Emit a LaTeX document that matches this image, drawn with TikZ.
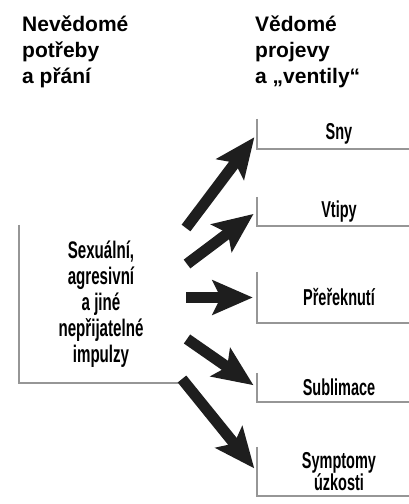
\documentclass[tikz,border=0pt]{standalone}
\usepackage{fontspec}
\setmainfont{Liberation Sans}
\newfontfamily\condfont[FakeStretch=0.63]{Liberation Sans}
\usetikzlibrary{positioning, arrows.meta}
\definecolor{framegray}{RGB}{150,150,150}
\definecolor{arrowblack}{RGB}{30,30,30}

\begin{document}
\begin{tikzpicture}[x=1pt, y=-1pt,
  head/.style={align=left, inner sep=0pt, anchor=base west, font=\bfseries\fontsize{21}{26}\selectfont},
  inbox/.style={inner sep=0pt, align=center, font=\condfont\bfseries\fontsize{24}{26}\selectfont},
  outbox/.style={inner sep=0pt, align=center, minimum width=164pt, font=\condfont\bfseries\fontsize{23}{21}\selectfont},
  frame/.style={draw=framegray, line width=1.6pt},
  arr/.style={-{Stealth[length=40pt, width=34pt, inset=8pt]}, line width=11pt, arrowblack, shorten >=4pt},
]
  \useasboundingbox (0,0) rectangle (409,504);
  % column headings
  \node[head] (unconscious) at (22,83) {Nevědomé\\potřeby\\a přání};
  \node[head] (conscious) at (255,83) {Vědomé\\projevy\\a „ventily“};
  % left box
  \node[inbox, minimum width=164pt, minimum height=158pt] (impulses) at (101,304) {Sexuální,\\agresivní\\a jiné\\nepřijatelné\\impulzy};
  % right boxes
  \node[outbox, minimum height=30pt] (dreams) at (339,134) {Sny};
  \node[outbox, minimum height=29pt] (jokes) at (339,211.5) {Vtipy};
  \node[outbox, minimum height=51pt] (slips) at (339,297.5) {Přeřeknutí};
  \node[outbox, minimum height=29pt] (sublim) at (339,387.5) {Sublimace};
  \node[outbox, minimum height=49pt] (symptoms) at (339,471.5) {Symptomy\\úzkosti};
  \coordinate (edge) at (409,0);
  \draw[frame] (impulses.north west) |- (impulses.south east);
  \foreach \n in {dreams, jokes, slips, sublim, symptoms}
    \draw[frame] (\n.north west) |- (\n.south -| edge);
  % arrows
  \coordinate (t1) at (186,228);
  \coordinate (t2) at (187,264);
  \coordinate (t3) at (186,297.5);
  \coordinate (t4) at (187,339);
  \coordinate (t5) at (182,379);
  \draw[arr] (t1) -- (dreams.west);
  \draw[arr] (t2) -- (jokes.west);
  \draw[arr] (t3) -- (slips.west);
  \draw[arr] (t4) -- (sublim.west);
  \draw[arr] (t5) -- (symptoms.west);
\end{tikzpicture}
\end{document}
